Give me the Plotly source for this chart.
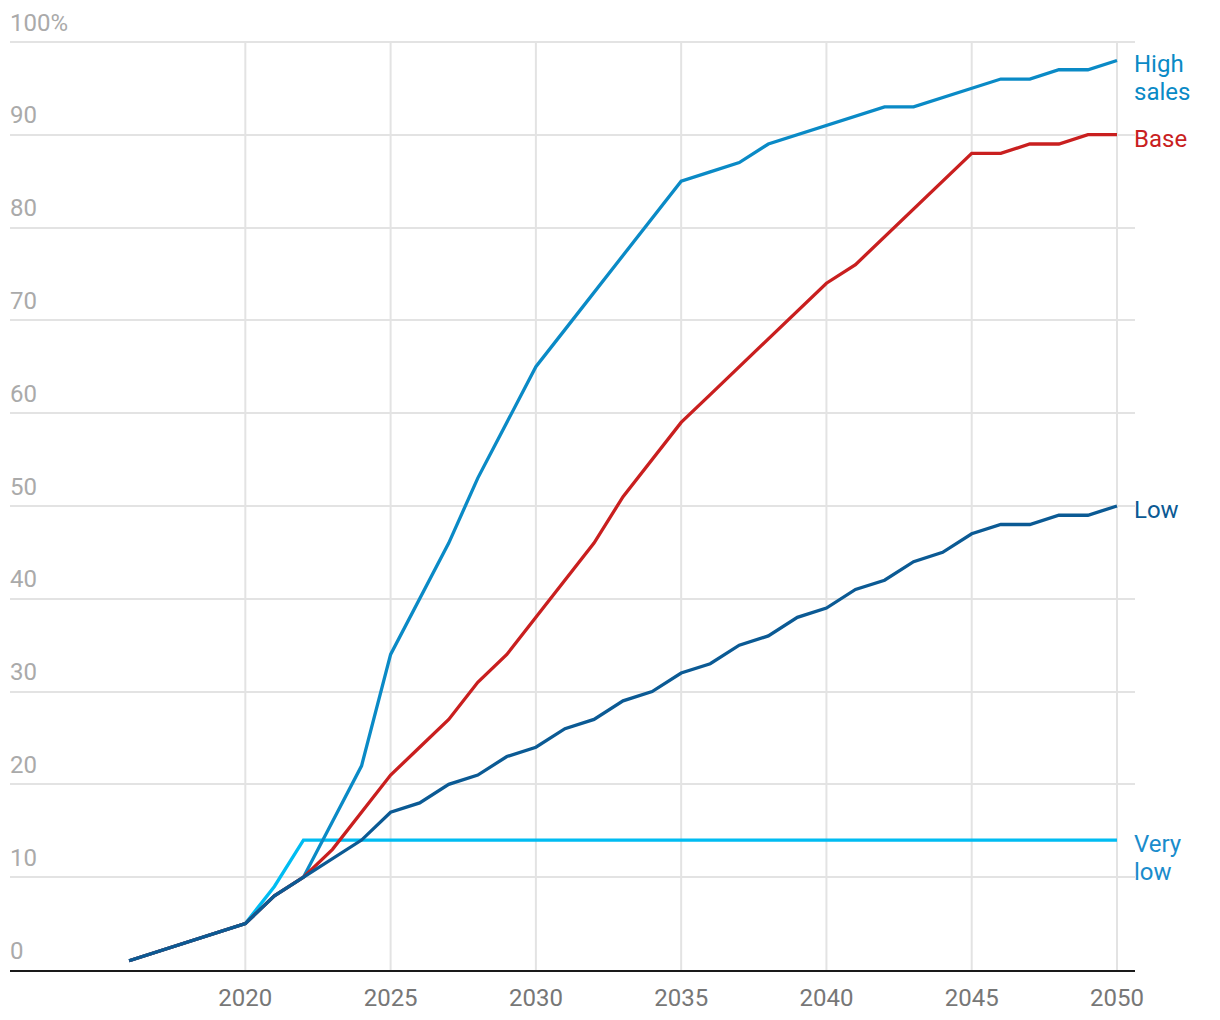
import plotly.graph_objects as go

years = list(range(2016, 2051))

common_early = [1, 2, 3, 4, 5]  # 2016-2020

high_sales = common_early + [8, 10, 16, 22, 34, 40, 46, 53, 59, 65, 69, 73, 77, 81, 85,
                             86, 87, 89, 90, 91, 92, 93, 93, 94, 95, 96, 96, 97, 97, 98]
base = common_early + [8, 10, 13, 17, 21, 24, 27, 31, 34, 38, 42, 46, 51, 55, 59,
                       62, 65, 68, 71, 74, 76, 79, 82, 85, 88, 88, 89, 89, 90, 90]
low = common_early + [8, 10, 12, 14, 17, 18, 20, 21, 23, 24, 26, 27, 29, 30, 32,
                      33, 35, 36, 38, 39, 41, 42, 44, 45, 47, 48, 48, 49, 49, 50]
very_low = common_early + [9, 14, 14, 14, 14, 14, 14, 14, 14, 14, 14, 14, 14, 14, 14,
                           14, 14, 14, 14, 14, 14, 14, 14, 14, 14, 14, 14, 14, 14, 14]

# (label lines, values, line colour, label colour)
series = [
    (["Very", "low"], very_low, "#00bcf2", "#1a8ccc"),
    (["High", "sales"], high_sales, "#0a8ac6", "#0a8ac6"),
    (["Base"], base, "#c91f1f", "#c91f1f"),
    (["Low"], low, "#0b5a94", "#0b5a94"),
]

ytickvals = [0, 10, 20, 30, 40, 50, 60, 70, 80, 90, 100]
yticktext = ["0", "10", "20", "30", "40", "50", "60", "70", "80", "90", "100%"]
xtickvals = [2020, 2025, 2030, 2035, 2040, 2045, 2050]

fig = go.Figure()

# vertical grid lines stopping at the top tick (100%)
for xv in xtickvals:
    fig.add_shape(type="line", xref="x", yref="y", x0=xv, x1=xv,
                  y0=ytickvals[0], y1=ytickvals[-1],
                  line=dict(color="#e3e3e3", width=2), layer="below")

for lines, vals, color, lcolor in series:
    fig.add_trace(go.Scatter(x=years, y=vals, mode="lines", name=" ".join(lines),
                             line=dict(color=color, width=3.3), hoverinfo="skip"))
    for i, txt in enumerate(lines):
        fig.add_annotation(x=years[-1], y=vals[-1], xref="x", yref="y", text=txt,
                           showarrow=False, xanchor="left", yanchor="middle",
                           xshift=15, yshift=-4 - 28 * i, align="left",
                           font=dict(family="Roboto", size=24, color=lcolor))

fig.update_layout(
    width=1220, height=1020,
    margin=dict(l=10, r=85, t=2, b=50),
    paper_bgcolor="white", plot_bgcolor="white",
    showlegend=False,
    font=dict(family="Roboto", size=24, color="#777"),
    xaxis=dict(range=[2011.9, 2050.62], tickvals=xtickvals, showgrid=False,
               showline=True, linecolor="#1a1a1a", linewidth=2, ticks="",
               zeroline=False, ticklabelstandoff=5,
               tickfont=dict(family="Roboto", size=24, color="#777")),
    yaxis=dict(range=[0, 104.3], tickvals=ytickvals, ticktext=yticktext,
               ticklabelposition="inside top", ticklabelstandoff=-3,
               ticklabelshift=-3, showgrid=True, gridcolor="#e3e3e3",
               gridwidth=2, zeroline=False, ticks="", showline=False,
               tickfont=dict(family="Roboto", size=24, color="#aaa")),
)

fig.write_html("out.html")
